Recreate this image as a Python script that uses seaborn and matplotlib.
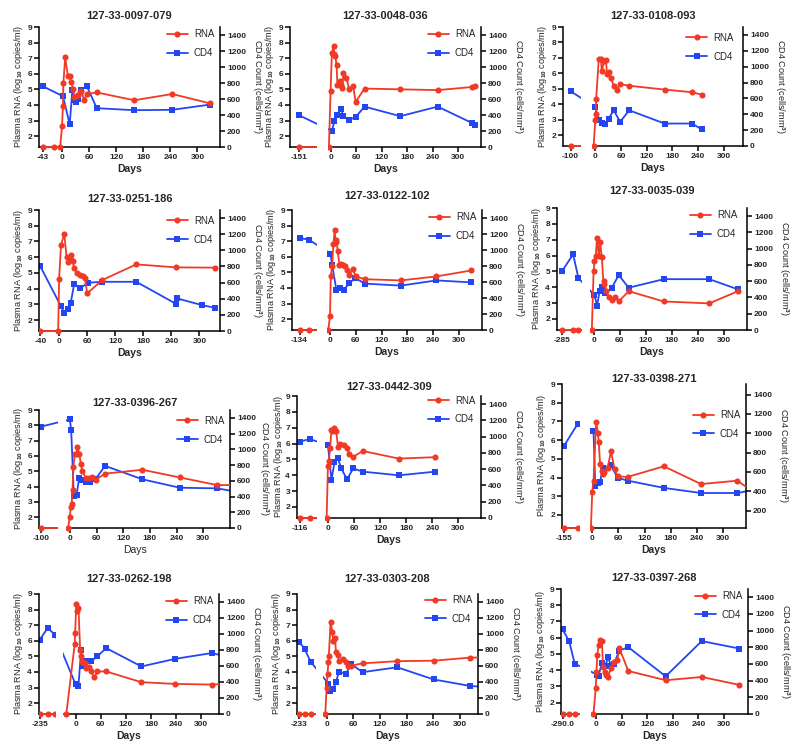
import numpy as np
import pandas as pd
import matplotlib
matplotlib.use("Agg")
import matplotlib.pyplot as plt
from matplotlib.patches import Rectangle
import seaborn as sns

# ---- data (days since infection, RNA log10 copies/ml, CD4 cells/mm3) ----
IDS = ["127-33-0097-079", "127-33-0048-036", "127-33-0108-093",
       "127-33-0251-186", "127-33-0122-102", "127-33-0035-039",
       "127-33-0396-267", "127-33-0442-309", "127-33-0398-271",
       "127-33-0262-198", "127-33-0303-208", "127-33-0397-268"]

P1_RNA_DAYS = [-43, -18, -4, 0, 2, 3, 7, 13, 17, 21, 24, 27, 31, 35, 39, 43, 49, 55, 77, 160, 244, 328]
P1_RNA = [1.3, 1.3, 1.3, 2.65, 3.9, 5.4, 7.05, 5.85, 5.85, 5.45, 5.0, 4.5, 4.6, 4.65, 4.8, 4.9, 4.3, 4.7, 4.8, 4.3, 4.7, 4.1]
P1_CD4_DAYS = [-43, 2, 17, 23, 27, 31, 35, 43, 55, 77, 160, 244, 328]
P1_CD4 = [760, 635, 285, 715, 590, 560, 600, 715, 760, 485, 460, 465, 530]

P2_RNA_DAYS = [-151, -4, 0, 3, 7, 9, 11, 14, 16, 22, 24, 28, 30, 37, 44, 53, 59, 80, 164, 252, 333, 340]
P2_RNA = [1.3, 1.3, 4.9, 7.35, 7.75, 7.25, 7.15, 6.55, 5.3, 5.55, 5.3, 5.1, 6.05, 5.75, 5.0, 5.2, 4.2, 5.05, 5.0, 4.95, 5.15, 5.2]
P2_CD4_DAYS = [-151, 3, 9, 16, 24, 30, 44, 59, 80, 164, 252, 333, 340]
P2_CD4 = [395, 200, 325, 395, 480, 385, 340, 375, 505, 385, 505, 300, 275]

P3_RNA_DAYS = [-100, -4, 0, 1, 2, 8, 13, 15, 21, 25, 27, 31, 36, 43, 50, 58, 79, 162, 226, 249]
P3_RNA = [1.3, 1.3, 3.0, 3.35, 4.37, 6.93, 6.93, 6.16, 6.8, 6.87, 5.97, 6.08, 5.73, 5.2, 4.9, 5.3, 5.2, 4.95, 4.78, 4.62]
P3_CD4_DAYS = [-100, 0, 8, 15, 23, 31, 43, 58, 79, 162, 226, 249]
P3_CD4 = [690, 490, 325, 296, 275, 346, 450, 304, 450, 283, 283, 208]

P4_RNA_DAYS = [-41, -2, 0, 4, 11, 16, 20, 23, 25, 29, 32, 39, 45, 51, 55, 60, 92, 165, 249, 334]
P4_RNA = [1.3, 1.3, 4.58, 6.77, 7.47, 6.03, 5.7, 5.92, 6.13, 5.75, 5.33, 4.97, 4.86, 4.82, 4.7, 3.69, 4.54, 5.54, 5.35, 5.33]
P4_CD4_DAYS = [-41, 4, 11, 20, 25, 32, 45, 61, 92, 165, 249, 253, 306, 334]
P4_CD4 = [810, 307, 224, 278, 353, 577, 528, 598, 610, 610, 340, 403, 320, 287]

P5_RNA_DAYS = [-134, -110, -4, 0, 2, 5, 8, 11, 13, 15, 18, 22, 26, 31, 35, 39, 45, 53, 60, 81, 165, 248, 329]
P5_RNA = [1.3, 1.3, 1.3, 2.18, 4.74, 5.42, 6.8, 7.72, 6.93, 7.05, 6.38, 5.48, 5.55, 5.44, 5.38, 5.16, 4.84, 5.2, 4.74, 4.56, 4.48, 4.74, 5.12]
P5_CD4_DAYS = [-134, -110, 1, 5, 15, 23, 32, 45, 59, 81, 165, 248, 329]
P5_CD4 = [1150, 1130, 955, 815, 500, 520, 500, 585, 650, 580, 555, 620, 595]

P6_RNA_DAYS = [-285, -255, -240, -4, 0, 2, 5, 8, 12, 15, 19, 23, 25, 29, 35, 42, 50, 58, 81, 162, 267, 333]
P6_RNA = [1.3, 1.3, 1.3, 1.3, 5.0, 5.65, 5.95, 7.13, 5.95, 6.83, 5.9, 4.2, 4.4, 3.75, 3.4, 3.2, 3.4, 3.1, 3.75, 3.1, 2.98, 3.75]
P6_CD4_DAYS = [-285, -255, -240, 2, 8, 14, 20, 27, 42, 58, 81, 162, 267, 333]
P6_CD4 = [730, 930, 635, 430, 300, 480, 530, 450, 520, 675, 520, 625, 625, 500]

P7_RNA_DAYS = [-100, -4, 0, 2, 4, 6, 8, 11, 15, 17, 21, 25, 28, 36, 44, 49, 58, 79, 163, 247, 331, 375]
P7_RNA = [1.3, 1.3, 2.04, 2.64, 2.85, 3.8, 5.3, 6.1, 6.1, 6.6, 6.15, 5.45, 5.0, 4.55, 4.55, 4.65, 4.45, 4.85, 5.1, 4.6, 4.1, 4.1]
P7_CD4_DAYS = [-100, 0, 3, 9, 15, 21, 26, 36, 45, 58, 79, 163, 247, 331, 375]
P7_CD4 = [1290, 1380, 1240, 405, 418, 640, 606, 589, 589, 623, 790, 619, 512, 504, 460]

P8_RNA_DAYS = [-116, -88, -3, 0, 2, 5, 8, 11, 15, 19, 23, 28, 36, 44, 49, 58, 80, 163, 247]
P8_RNA = [1.3, 1.3, 1.3, 4.6, 4.9, 5.7, 6.87, 6.77, 6.98, 6.77, 5.8, 5.97, 5.9, 5.7, 5.33, 5.16, 5.53, 5.05, 5.14]
P8_CD4_DAYS = [-116, -88, 0, 8, 15, 23, 30, 44, 58, 80, 163, 247]
P8_CD4 = [940, 970, 900, 465, 685, 735, 615, 475, 610, 570, 525, 570]

P9_RNA_DAYS = [-155, -122, -3, 0, 3, 9, 13, 15, 18, 22, 24, 28, 35, 43, 51, 58, 81, 164, 249, 332, 365]
P9_RNA = [1.3, 1.3, 1.3, 3.22, 3.83, 6.95, 6.38, 5.88, 4.72, 4.33, 4.2, 4.3, 4.5, 5.4, 4.45, 4.06, 4.03, 4.6, 3.65, 3.83, 3.3]
P9_CD4_DAYS = [-155, -122, 0, 3, 7, 13, 18, 24, 43, 58, 81, 164, 249, 332, 365]
P9_CD4 = [870, 1095, 1020, 1020, 450, 485, 495, 640, 670, 540, 510, 435, 382, 382, 410]

P10_RNA_DAYS = [-235, -216, -198, -22, -2, -1, 2, 4, 7, 11, 13.5, 15, 19, 23, 25.5, 31, 37, 45, 52, 73, 157, 238, 325, 365]
P10_RNA = [1.3, 1.3, 1.3, 1.3, 5.76, 6.52, 8.35, 7.88, 8.13, 5.4, 5.0, 4.63, 4.63, 4.58, 4.25, 4.3, 4.03, 3.66, 4.03, 4.03, 3.34, 3.23, 3.19, 3.25]
P10_CD4_DAYS = [-235, -216, -198, 0, 7, 13.5, 17.5, 24, 37, 52, 73, 157, 238, 325, 365]
P10_CD4 = [930, 1075, 990, 372, 356, 803, 594, 657, 657, 720, 824, 594, 690, 762, 710]

P11_RNA_DAYS = [-233, -216, -198, -3, 0, 2, 4, 5, 9, 13, 15, 19, 21, 25, 28, 36, 43, 49, 55, 81, 159, 241, 324, 365]
P11_RNA = [1.3, 1.3, 1.3, 1.3, 2.98, 3.84, 4.65, 5.05, 7.2, 6.53, 6.0, 6.2, 5.3, 5.1, 4.7, 4.85, 4.65, 4.4, 4.4, 4.55, 4.69, 4.72, 4.92, 4.92]
P11_CD4_DAYS = [-233, -216, -198, 4, 7, 15, 21, 28, 43, 55, 81, 159, 241, 324, 365]
P11_CD4 = [905, 810, 655, 380, 290, 317, 400, 530, 500, 625, 523, 584, 432, 350, 335]

P12_RNA_DAYS = [-290, -269, -251, -7, -1.5, 0, 2, 5, 9, 13, 15.5, 21, 23, 27, 35, 41, 49, 54, 75, 163, 248, 336]
P12_RNA = [1.3, 1.3, 1.3, 1.3, 2.93, 3.86, 4.93, 5.55, 5.86, 5.8, 4.2, 3.86, 3.7, 3.6, 4.16, 4.52, 4.62, 5.35, 3.95, 3.38, 3.58, 3.1]
P12_CD4_DAYS = [-290, -269, -251, 2, 5, 13, 21, 27, 35, 41, 54, 75, 163, 248, 336]
P12_CD4 = [1015, 875, 605, 470, 460, 613, 573, 681, 573, 601, 762, 802, 452, 875, 786]

# first x tick of each panel (the pre-infection sample) and its label
PRE_TICKS = [-43, -151, -100, -40, -134, -285, -100, -116, -155, -235, -233, -290]
PRE_LABELS = ["-43", "-151", "-100", "-40", "-134", "-285", "-100", "-116", "-155", "-235", "-233", "-290.0"]
MAIN_TICKS = [0, 60, 120, 180, 240, 300]

# ---- layout: axes box in pixels (left, top, right, bottom) ----
BOXES = [(39, 27, 220, 147), (290, 27, 481, 147), (563, 27, 743, 146),
         (39, 210, 220, 331), (292, 210, 482, 330), (557, 208, 747, 330),
         (39, 410, 230, 528), (297, 396, 481, 518), (562, 384, 746, 528),
         (39, 594, 219, 714), (297, 594, 478, 714), (561, 589, 748, 714)]
# broken x axis: pre segment limits, main segment limits, screen fractions of the gap
PRE_LIMS = [None, (-165, -125), (-125, -65), None, (-154, -88), (-300, -230),
            (-106, -60), (-126, -66), (-160, -115), (-237, -195), (-240, -180), (-295, -235)]
MAIN_LIMS = [(-51, 350), (-7, 354), (-7, 345), (-43, 344), (-7, 354), (-9, 354),
             (-8, 360), (-6, 352), (-6, 352), (-30, 342), (-8, 341), (-13, 357)]
GAPS = [None, (0.14, 0.197), (0.102, 0.163), None, (0.132, 0.184), (0.132, 0.172),
        (0.10, 0.143), (0.108, 0.154), (0.10, 0.15), (0.096, 0.133), (0.107, 0.144), (0.10, 0.16)]
TITLE_PAD = [6, 6, 6, 6, 8, 10, 3, 4, -2, 9, 9, 6]
LEG_ANCHOR = [(1.0, 1.03), (1.0, 1.03), (0.98, 1.0), (1.0, 1.0), (1.0, 1.03), (0.98, 1.03),
              (1.0, 1.0), (1.0, 1.05), (1.0, 0.86), (1.0, 1.03), (1.0, 1.04), (1.0, 1.03)]
LEFT_PAD = [2, 2, 2, 2, 2, 2, 2, 0.5, 2, 2, 2, 2]
RIGHT_PAD = [3, 3, 3, 3, 3, 3, 1, 3, 3, 3, 3, 3]

RED = "#F03A26"
BLUE = "#2446F2"
W, H = 800, 753

sns.set_style("ticks")
plt.rcParams["font.family"] = ["Liberation Sans", "DejaVu Sans"]
plt.rcParams["font.weight"] = "bold"
plt.rcParams["mathtext.fontset"] = "custom"
plt.rcParams["mathtext.bf"] = "Liberation Sans:bold"
plt.rcParams["mathtext.rm"] = "Liberation Sans:bold"
plt.rcParams["mathtext.default"] = "bf"


def broken_scale(kx, ks):
    """piecewise linear day -> screen mapping, used as a FuncScale"""
    kx = np.asarray(kx, float)
    ks = np.asarray(ks, float)
    lo = (ks[1] - ks[0]) / (kx[1] - kx[0])
    hi = (ks[-1] - ks[-2]) / (kx[-1] - kx[-2])

    def fwd(x):
        x = np.asarray(x, float)
        y = np.interp(x, kx, ks)
        y = np.where(x < kx[0], ks[0] + (x - kx[0]) * lo, y)
        return np.where(x > kx[-1], ks[-1] + (x - kx[-1]) * hi, y)

    def inv(s):
        s = np.asarray(s, float)
        x = np.interp(s, ks, kx)
        x = np.where(s < ks[0], kx[0] + (s - ks[0]) / lo, x)
        return np.where(s > ks[-1], kx[-1] + (s - ks[-1]) / hi, x)

    return fwd, inv


def clip_rect(ax):
    return Rectangle((0, -0.06), 1, 1.12, transform=ax.transAxes)


fig = plt.figure(figsize=(W / 100, H / 100), dpi=100)

g = globals()
for i in range(12):
    n = i + 1
    rna = pd.DataFrame({"day": g[f"P{n}_RNA_DAYS"], "val": g[f"P{n}_RNA"]})
    cd4 = pd.DataFrame({"day": g[f"P{n}_CD4_DAYS"], "val": g[f"P{n}_CD4"]})
    l, t, r, b = BOXES[i]
    ax = fig.add_axes([l / W, 1 - b / H, (r - l) / W, (b - t) / H])

    a, d = MAIN_LIMS[i]
    if PRE_LIMS[i] is None:
        kx, ks = [a, d], [0, 1]
        x0 = a
    else:
        pa, pb = PRE_LIMS[i]
        s1, s2 = GAPS[i]
        kx, ks = [pa, pb, a, d], [0, s1, s2, 1]
        x0 = pa
    ax.set_xscale("function", functions=broken_scale(kx, ks))

    ax2 = ax.twinx()
    ax.set_zorder(ax2.get_zorder() + 1)
    ax.patch.set_visible(False)

    sns.lineplot(data=cd4, x="day", y="val", ax=ax2, color=BLUE, marker="s",
                 markersize=4.2, markeredgewidth=0, linewidth=1.3,
                 sort=False, estimator=None, legend=False)
    sns.lineplot(data=rna, x="day", y="val", ax=ax, color=RED, marker="o",
                 markersize=4.4, markeredgewidth=0, linewidth=1.3,
                 sort=False, estimator=None, legend=False, zorder=3)
    line_c = ax2.lines[-1]
    line_r = ax.lines[-1]
    line_c.set_clip_path(clip_rect(ax2))
    line_r.set_clip_path(clip_rect(ax))

    ax.set_xlim(x0, d)
    ax.set_ylim(1.3, 9)
    ax.set_yticks(range(2, 10))
    if i == 8:
        ax2.set_ylim(20, 1510)
        ax2.set_yticks(range(200, 1401, 200))
    else:
        ax2.set_ylim(0, 1500)
        ax2.set_yticks(range(0, 1401, 200))
    ax.set_xticks([PRE_TICKS[i]] + MAIN_TICKS)
    ax.set_xticklabels([PRE_LABELS[i]] + [str(v) for v in MAIN_TICKS])

    for side in ["top", "right"]:
        ax.spines[side].set_visible(False)
    ax2.spines["top"].set_visible(False)
    ax2.spines["left"].set_visible(False)
    for sp in list(ax.spines.values()) + list(ax2.spines.values()):
        sp.set_color("black")
        sp.set_linewidth(1.1)
    if PRE_LIMS[i] is None:
        ax2.spines["bottom"].set_visible(False)
    else:
        ax.spines["bottom"].set_bounds(pa, pb)
        ax2.spines["bottom"].set_bounds(a, d)
        # hide the lines where the axis is broken
        ax.axvspan(pb, a, ymin=-0.04, ymax=1, color="white", lw=0,
                   zorder=10, clip_on=False)

    ax.tick_params(axis="both", labelsize=6, length=3.5, width=1.1, pad=1.5, color="black")
    ax2.tick_params(axis="y", labelsize=6, length=3.5, width=1.1, pad=1.5, color="black")

    ax.set_title(IDS[i], fontsize=8, fontweight="bold", pad=TITLE_PAD[i])
    ax.set_xlabel("Days", fontsize=7.5, labelpad=2,
                  fontweight="normal" if i == 6 else "bold")
    ax.set_ylabel("Plasma RNA (log$_{10}$ copies/ml)", fontsize=6.6, labelpad=LEFT_PAD[i])
    ax2.set_ylabel("CD4 Count (cells/mm$^{3}$)", fontsize=6.6, rotation=270,
                   va="bottom", labelpad=RIGHT_PAD[i])

    ax.legend([line_r, line_c], ["RNA", "CD4"], loc="upper right",
              bbox_to_anchor=LEG_ANCHOR[i], frameon=False,
              prop={"size": 7, "weight": "normal"}, handlelength=2.2,
              handletextpad=0.6, labelspacing=0.9, borderaxespad=0.2)

fig.savefig("out.png", dpi=100)
